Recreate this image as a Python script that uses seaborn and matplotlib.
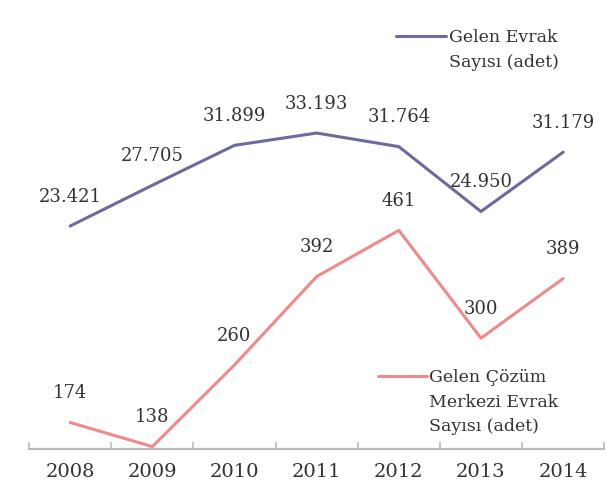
import pandas as pd
import matplotlib
matplotlib.use("Agg")
import matplotlib.pyplot as plt
import seaborn as sns

years = ["2008", "2009", "2010", "2011", "2012", "2013", "2014"]
gelen_evrak = [23421, 27705, 31899, 33193, 31764, 24950, 31179]
cozum_merkezi = [174, 138, 260, 392, 461, 300, 389]
evrak_labels = ["23.421", "27.705", "31.899", "33.193", "31.764", "24.950", "31.179"]
cozum_labels = ["174", "138", "260", "392", "461", "300", "389"]

PURPLE = "#6c6a9e"
PINK = "#f08a8a"
TEXT = "#333333"

sns.set_theme(style="white")
plt.rcParams["font.family"] = ["DejaVu Serif", "DejaVu Sans"]

df = pd.DataFrame({"year": years, "evrak": gelen_evrak, "cozum": cozum_merkezi})

fig = plt.figure(figsize=(6.06, 4.95), dpi=100)
ax = fig.add_axes([0.048, 0.093, 0.949, 0.907])
ax2 = ax.twinx()

sns.lineplot(data=df, x="year", y="evrak", ax=ax, color=PURPLE, linewidth=2.2,
             label="Gelen Evrak", legend=False)
sns.lineplot(data=df, x="year", y="cozum", ax=ax2, color=PINK, linewidth=2.2,
             label="Gelen Çözüm", legend=False)

ax.set_ylim(0, 47170)
ax2.set_ylim(134.5, 805)
ax.set_xlim(-0.5, 6.5)

for i, lab in enumerate(evrak_labels):
    ax.annotate(lab, (i, gelen_evrak[i]), xytext=(0, 21), textcoords="offset points",
                ha="center", va="center", fontsize=13, color=TEXT)
for i, lab in enumerate(cozum_labels):
    ax2.annotate(lab, (i, cozum_merkezi[i]), xytext=(0, 21), textcoords="offset points",
                 ha="center", va="center", fontsize=13, color=TEXT)

# axes styling
for a in (ax, ax2):
    for s in ["left", "right", "top"]:
        a.spines[s].set_visible(False)
    a.set_yticks([])
    a.set_ylabel("")
    a.set_xlabel("")
ax2.spines["bottom"].set_visible(False)
ax.spines["bottom"].set_color("#bbbbbb")
ax.spines["bottom"].set_linewidth(1.6)

ax.set_xticks(range(len(years)))
ax.set_xticklabels(years)
ax.set_xticks([i - 0.5 for i in range(len(years) + 1)], minor=True)
ax.tick_params(axis="x", which="major", length=0, pad=10, labelsize=14, labelcolor=TEXT)
ax.tick_params(axis="x", which="minor", direction="in", length=5, width=1.2,
               color="#bbbbbb", bottom=True)
ax2.tick_params(axis="x", which="both", length=0)

# legends (one per series, extra label lines hang below the first)
leg1 = ax.legend(loc="center left", bbox_to_anchor=(0.653, 0.925), bbox_transform=fig.transFigure,
                 frameon=False, borderpad=0, borderaxespad=0, handlelength=2.9,
                 handletextpad=0.15, fontsize=12.5, labelcolor=TEXT)
ax.annotate("Sayısı (adet)", xy=(0, 0), xycoords=leg1.get_texts()[0], xytext=(0, -6),
            textcoords="offset points", ha="left", va="top", fontsize=12.5, color=TEXT,
            zorder=10)

leg2 = ax2.legend(loc="center left", bbox_to_anchor=(0.624, 0.238), bbox_transform=fig.transFigure,
                  frameon=False, borderpad=0, borderaxespad=0, handlelength=2.8,
                  handletextpad=0.15, fontsize=12.5, labelcolor=TEXT)
ax2.annotate("Merkezi Evrak\nSayısı (adet)", xy=(0, 0), xycoords=leg2.get_texts()[0],
             xytext=(0, -6), textcoords="offset points", ha="left", va="top",
             fontsize=12.5, color=TEXT, linespacing=1.55, zorder=10)

fig.savefig("out.png", dpi=100)
